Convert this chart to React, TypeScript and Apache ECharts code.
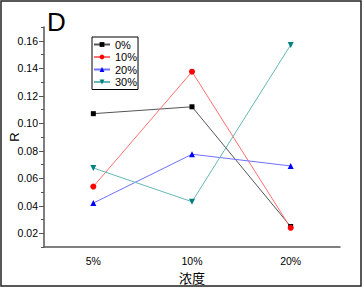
import React, { useEffect, useRef } from "react";
import * as echarts from "echarts";

const categories = ["5%", "10%", "20%"];
const seriesNames = ["0%", "10%", "20%", "30%"];
const s0 = [0.107, 0.112, 0.025];
const s10 = [0.054, 0.1375, 0.024];
const s20 = [0.042, 0.0775, 0.069];
const s30 = [0.0675, 0.043, 0.157];
const yMajorLabels = ["0.02", "0.04", "0.06", "0.08", "0.10", "0.12", "0.14", "0.16"];
const yMin = 0.01;
const yMax = 0.17;

const FONT = "Liberation Sans, Arial, sans-serif";

export default function App() {
  const ref = useRef<HTMLDivElement>(null);
  useEffect(() => {
    const chart = echarts.init(ref.current!, null, { renderer: "svg" });
    const yCats: string[] = [""];
    yMajorLabels.forEach((l) => {
      yCats.push(l);
      yCats.push("");
    });
    const markerColors = ["#000000", "#ff0000", "#0000ff", "#008080"];
    const lineColors = ["#555555", "#ff7070", "#7070ff", "#66b8b8"];
    const symbols = ["rect", "circle", "triangle", "triangle"];
    const rotates = [0, 0, 0, 180];
    const sizes = [5, 6, 6, 6];
    const datas = [s0, s10, s20, s30];
    chart.setOption({
      animation: false,
      backgroundColor: "#ffffff",
      textStyle: { fontFamily: FONT },
      grid: { left: 36, top: 27, width: 304, height: 227, containLabel: false },
      legend: {
        left: 92,
        top: 37,
        orient: "vertical",
        data: seriesNames,
        borderColor: "#000",
        borderWidth: 1,
        borderRadius: 0,
        padding: [2, 1, 2, 1],
        itemWidth: 16,
        itemHeight: 6,
        itemGap: 1.5,
        textStyle: { fontSize: 11, color: "#000", fontFamily: FONT, lineHeight: 11 },
      },
      xAxis: [
        {
          type: "category",
          data: categories,
          boundaryGap: true,
          name: "浓度",
          nameLocation: "middle",
          nameGap: 18,
          nameTextStyle: { fontSize: 13, color: "#000", fontFamily: "Noto Sans CJK SC" },
          axisLine: { lineStyle: { color: "#555", width: 1.5 } },
          axisTick: { inside: true, length: 3, lineStyle: { color: "#555" } },
          axisLabel: { fontSize: 10.5, color: "#000", margin: 8, fontFamily: FONT },
          splitLine: { show: false },
        },
        {
          type: "category",
          data: categories,
          boundaryGap: true,
          position: "bottom",
          axisLine: { show: false },
          axisTick: { alignWithLabel: true, length: 5, lineStyle: { color: "#555" } },
          axisLabel: { show: false },
          splitLine: { show: false },
        },
      ],
      yAxis: [
        {
          type: "value",
          min: yMin,
          max: yMax,
          interval: 0.02,
          name: "R",
          nameLocation: "middle",
          nameRotate: 90,
          nameGap: 23,
          nameTextStyle: { fontSize: 13, color: "#000", fontFamily: FONT },
          axisLine: { show: true, lineStyle: { color: "#555", width: 1.5 } },
          axisTick: { show: true, length: 3, lineStyle: { color: "#555" } },
          axisLabel: { show: false },
          splitLine: { show: false },
        },
        {
          type: "category",
          data: yCats,
          boundaryGap: false,
          position: "left",
          axisLine: { show: false },
          axisTick: {
            show: true,
            length: 5,
            interval: (i: number) => i % 2 === 1,
            lineStyle: { color: "#555" },
          },
          axisLabel: {
            interval: (i: number) => i % 2 === 1,
            fontSize: 10.5,
            color: "#000",
            margin: 6,
            fontFamily: FONT,
          },
          splitLine: { show: false },
        },
      ],
      graphic: [
        {
          type: "rect",
          shape: { x: 1, y: 1, width: 360, height: 285 },
          style: { fill: "none", stroke: "#222", lineWidth: 1.5 },
          silent: true,
        },
        {
          type: "text",
          left: 47,
          top: 9,
          style: { text: "D", fontSize: 26, fill: "#000", fontFamily: FONT },
        },
      ],
      series: seriesNames.map((name, k) => ({
        name,
        type: "line",
        xAxisIndex: 0,
        yAxisIndex: 0,
        data: datas[k],
        symbol: symbols[k],
        symbolRotate: rotates[k],
        symbolSize: sizes[k],
        showSymbol: true,
        itemStyle: { color: markerColors[k] },
        lineStyle: { color: lineColors[k], width: 1 },
        emphasis: { disabled: true },
      })),
    });
    return () => chart.dispose();
  }, []);
  return (
    <div
      ref={ref}
      style={{ position: "fixed", left: 0, top: 0, width: 364, height: 289 }}
    />
  );
}
